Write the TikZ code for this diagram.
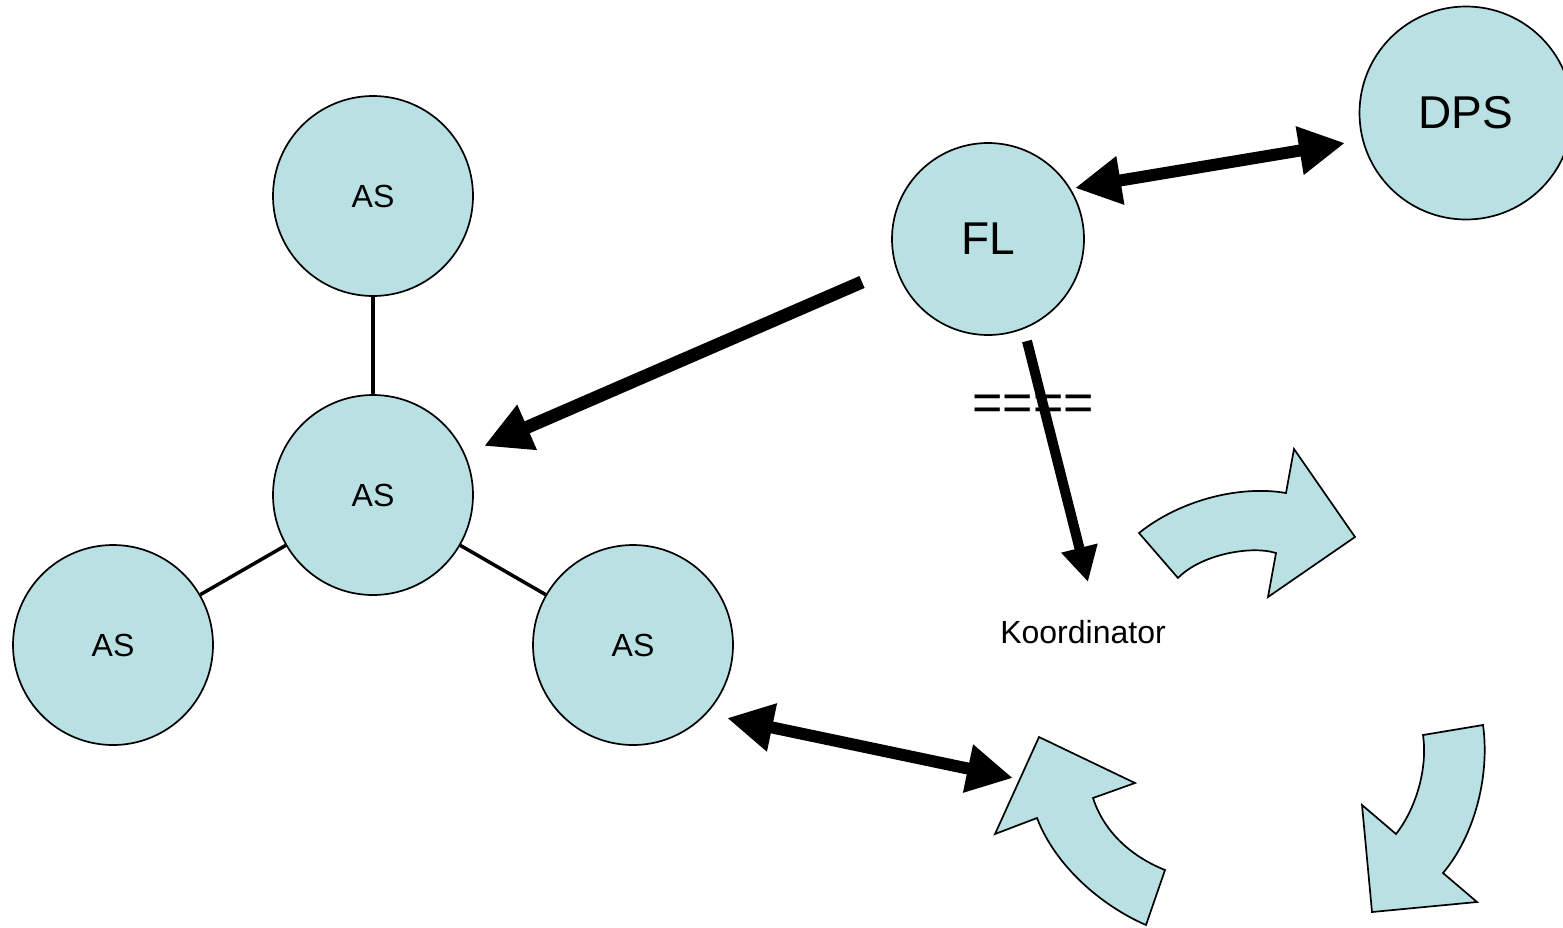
\documentclass[tikz,border=0pt]{standalone}
\usepackage{fontspec}
\setmainfont{Liberation Sans}
\usetikzlibrary{arrows.meta,calc}
\definecolor{nodefill}{RGB}{185,224,227}
\begin{document}
\begin{tikzpicture}[x=1pt,y=-1pt,
  circ/.style={circle,draw=black,line width=1.7pt,fill=nodefill,inner sep=0pt,minimum size=#1},
  smalltext/.style={font=\fontsize{32}{38}\selectfont},
  bigtext/.style={font=\fontsize{46}{55}\selectfont},
  link/.style={line width=3.5pt},
  blockarrow/.style={line width=#1,draw=black},
  bighead/.style={-{Triangle[length=47pt,width=46pt]}},
  bothheads/.style={{Triangle[length=46pt,width=46pt]}-{Triangle[length=46pt,width=46pt]}},
  turn/.style={draw=black,line width=1.7pt,fill=nodefill,line join=miter}]
\useasboundingbox (0,0) rectangle (1563,927);

% nodes
\node[circ=200pt,smalltext] (ast) at (373,196) {AS};
\node[circ=200pt,smalltext] (asc) at (373,495) {AS};
\node[circ=200pt,smalltext] (asl) at (113,645) {AS};
\node[circ=200pt,smalltext] (asr) at (633,645) {AS};
\node[circ=192pt,bigtext] (fl) at (988,239) {FL};
\node[circ=213pt,bigtext] (dps) at (1466,113) {DPS};
\node[smalltext,inner sep=0pt] (ko) at (1083,632) {Koordinator};
\node[font=\fontsize{52}{60}\selectfont,inner sep=0pt] (eq) at (1033,408) {====};

% links between AS nodes
\draw[link] (ast) -- (asc);
\draw[link] (asc) -- (asl);
\draw[link] (asc) -- (asr);

% turning arrows (cycle)
\draw[turn] (1139,533) .. controls (1180,500) and (1240,485) .. (1286,493)
  -- (1294,449) -- (1355,537) -- (1268,597) -- (1276,553)
  .. controls (1250,545) and (1200,555) .. (1178,578) -- cycle;
\draw[turn] (1423,735) -- (1483,725)
  .. controls (1490,775) and (1475,835) .. (1443,873)
  -- (1477,902) -- (1372,912) -- (1362,805) -- (1396,834)
  .. controls (1415,810) and (1428,770) .. (1423,735) -- cycle;
\draw[turn] (1039,737) -- (1135,783) -- (1093,798)
  .. controls (1105,835) and (1135,858) .. (1165,870)
  -- (1146,925)
  .. controls (1100,905) and (1055,865) .. (1037,818)
  -- (995,834) -- cycle;
\coordinate (turnTip) at (1013,778);

% connector end points
\coordinate (flA) at ($(fl)+(-126,43)$);
\coordinate (ascA) at ($(asc)+(111,-49)$);
\coordinate (flB) at ($(fl)+(87,-51)$);
\coordinate (dpsB) at ($(dps)+(-121,30)$);
\coordinate (asrB) at ($(asr)+(94,73)$);
\coordinate (flC) at ($(fl)+(39,102)$);
\coordinate (koC) at ($(ko)+(5,-50)$);

% block arrows
\draw[blockarrow=13pt,bighead] (flA) -- (ascA);
\draw[blockarrow=12pt,bothheads] (flB) -- (dpsB);
\draw[blockarrow=12pt,bothheads] (asrB) -- (turnTip);
\draw[blockarrow=10pt,-{Triangle[length=35pt,width=35pt]}] (flC) -- (koC);
\end{tikzpicture}
\end{document}
